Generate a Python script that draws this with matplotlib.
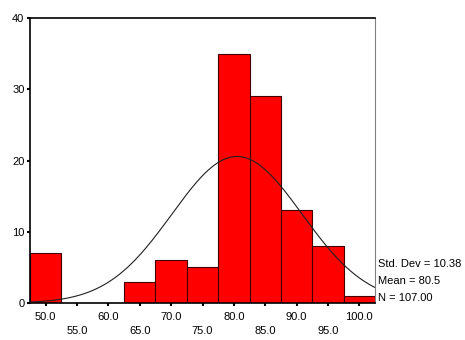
import numpy as np
import matplotlib
matplotlib.use("Agg")
import matplotlib.pyplot as plt

plt.rcParams['font.family'] = ['Liberation Sans', 'DejaVu Sans']

bin_centers = [50, 55, 60, 65, 70, 75, 80, 85, 90, 95, 100]
counts = [7, 0, 0, 3, 6, 5, 35, 29, 13, 8, 1]
bin_width = 5.0
std_dev = 10.38
mean = 80.5
n = 107
y_ticks = [0, 10, 20, 30, 40]

fig = plt.figure(figsize=(4.65, 3.4), dpi=100)
ax = fig.add_axes([30/465, 1-303/340, 345/465, 285/340])

ax.bar(bin_centers, counts, width=bin_width, color='#ff0000', edgecolor='#400000', linewidth=0.8, zorder=2)
xs = np.linspace(47.5, 102.5, 400)
ys = n * bin_width / (std_dev * np.sqrt(2*np.pi)) * np.exp(-0.5*((xs-mean)/std_dev)**2)
ax.plot(xs, ys, color='#202020', linewidth=0.8, zorder=3)

ax.set_xlim(47.5, 102.5)
ax.set_ylim(0, 40)
ax.set_yticks(y_ticks)
ax.set_yticklabels([str(t) for t in y_ticks], fontsize=8)
ax.set_xticks(bin_centers)
labels = []
for i, c in enumerate(bin_centers):
    labels.append(f"{c:.1f}" if i % 2 == 0 else "\n" + f"{c:.1f}")
ax.set_xticklabels(labels, fontsize=8, linespacing=1.45)
ax.tick_params(axis='both', length=2, width=1.5, direction='out', pad=2)
ax.tick_params(axis='x', pad=4.5)
for s in ['left', 'bottom', 'top']:
    ax.spines[s].set_linewidth(1.2)
    ax.spines[s].set_color('black')
ax.spines['right'].set_color('#808080')
ax.spines['right'].set_linewidth(0.8)

ax.text(1.008, 39/285, f"Std. Dev = {std_dev:.2f}", transform=ax.transAxes, fontsize=8, va='center', ha='left')
ax.text(1.008, 22/285, f"Mean = {mean}", transform=ax.transAxes, fontsize=8, va='center', ha='left')
ax.text(1.008, 5/285, f"N = {n:.2f}", transform=ax.transAxes, fontsize=8, va='center', ha='left')

fig.savefig("out.png", dpi=100)
